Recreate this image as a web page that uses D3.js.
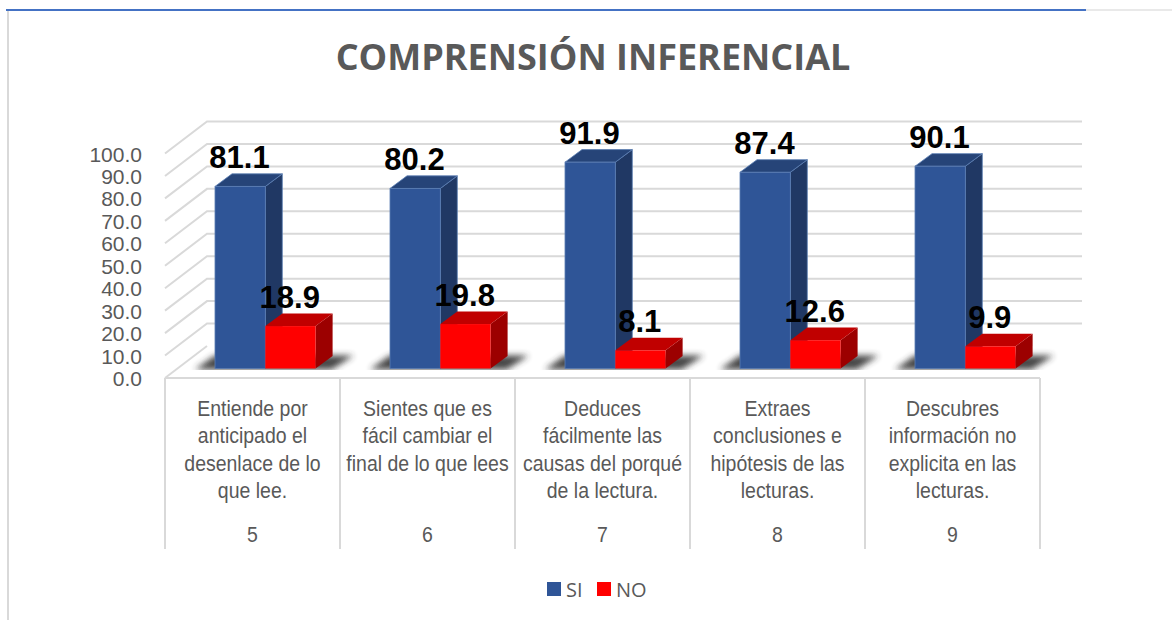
<!DOCTYPE html>
<html><head><meta charset="utf-8">
<script src="https://cdn.jsdelivr.net/npm/d3@7/dist/d3.min.js"></script>
<style>html,body{margin:0;padding:0;background:#fff;overflow:hidden}svg{display:block}text{font-family:"Liberation Sans",Arial,sans-serif}</style>
</head><body><svg id="c" width="1172" height="620"></svg>
<script>
const title = "COMPRENSIÓN INFERENCIAL";
const codes = ["5","6","7","8","9"];
const labels = [
 ["Entiende por","anticipado el","desenlace de lo","que lee."],
 ["Sientes que es","fácil cambiar el","final de lo que lees"],
 ["Deduces","fácilmente las","causas del porqué","de la lectura."],
 ["Extraes","conclusiones e","hipótesis de las","lecturas."],
 ["Descubres","información no","explicita en las","lecturas."]
];
const si = [81.1,80.2,91.9,87.4,90.1];
const no = [18.9,19.8,8.1,12.6,9.9];
const ticks = [0,10,20,30,40,50,60,70,80,90,100];
const seriesNames = ["SI","NO"];

const svg = d3.select("#c");
const defs = svg.append("defs");
defs.append("filter").attr("id","blur").attr("x","-20%").attr("y","-60%").attr("width","140%").attr("height","220%")
  .append("feGaussianBlur").attr("stdDeviation",3.2);
defs.append("clipPath").attr("id","floorClip").append("rect").attr("x",0).attr("y",340).attr("width",1172).attr("height",30);

// frame
svg.append("line").attr("x1",1086).attr("x2",1172).attr("y1",10).attr("y2",10).attr("stroke","#e2e2e2").attr("stroke-width",1.5);
svg.append("line").attr("x1",6).attr("x2",1086).attr("y1",10).attr("y2",10).attr("stroke","#4472c4").attr("stroke-width",2);
svg.append("line").attr("x1",8).attr("x2",8).attr("y1",11).attr("y2",620).attr("stroke","#d9d9d9").attr("stroke-width",2);

svg.append("text").attr("x",593).attr("y",70).attr("text-anchor","middle").attr("fill","#595959")
  .style("font-family","'Open Sans'").style("font-weight",700).style("font-size","36px").text(title);

// 3D geometry
const floorLeft = 165, floorRight = 1040, frontY = 378;
const wallDx = 42, wallDy = -32;
const y = d3.scaleLinear().domain([0,100]).range([0,-224.5]);
const x0 = d3.scaleBand().domain(codes).range([floorLeft,floorRight]);
const barW = 50.3, barDx = 17, barDy = -12.6, barBase = 368.5, barInset = 50;
const grid = "#d9d9d9";

const g = svg.append("g");
ticks.forEach(t=>{
  const yy = frontY + y(t);
  g.append("path").attr("fill","none").attr("stroke",grid).attr("stroke-width",t===0?0:2)
   .attr("d",d3.line()([[floorLeft,yy],[floorLeft+wallDx,yy+wallDy],[floorRight+wallDx,yy+wallDy]]));
});
// floor edges
g.append("line").attr("x1",floorLeft).attr("x2",floorLeft+wallDx).attr("y1",frontY).attr("y2",frontY+wallDy).attr("stroke",grid).attr("stroke-width",2);
g.append("line").attr("x1",floorLeft).attr("x2",floorRight).attr("y1",frontY).attr("y2",frontY).attr("stroke",grid).attr("stroke-width",2);

// y tick labels
svg.append("g").selectAll("text").data(ticks).join("text")
  .attr("x",142).attr("y",t=>frontY+y(t)+8).attr("text-anchor","end").attr("fill","#595959")
  .style("font-size","21px").text(t=>t.toFixed(1));

// category dividers
d3.range(codes.length+1).forEach(i=>{
  const xx = floorLeft + i*x0.step();
  g.append("line").attr("x1",xx).attr("x2",xx).attr("y1",frontY).attr("y2",549).attr("stroke",grid).attr("stroke-width",2);
});

// category labels
const lab = svg.append("g");
codes.forEach((c,i)=>{
  const cx = x0(c)+x0.bandwidth()/2;
  labels[i].forEach((t,j)=>{
    lab.append("text").attr("transform",`translate(${cx},${416+j*27.4}) scale(0.885,1)`)
      .attr("text-anchor","middle").attr("fill","#595959").style("font-size","22px").text(t);
  });
  lab.append("text").attr("transform",`translate(${cx},${541.5}) scale(0.885,1)`).attr("text-anchor","middle")
    .attr("fill","#595959").style("font-size","22px").text(c);
});

// bars
function box(sel,xl,h,front,top,side,edge){
  const t = barBase-h, r = xl+barW;
  sel.append("path").attr("fill",side).attr("stroke",edge).attr("stroke-width",edge==="none"?0:.8).attr("d",d3.line()([[r,barBase],[r+barDx,barBase+barDy],[r+barDx,t+barDy],[r,t]])+"Z");
  sel.append("path").attr("fill",top).attr("stroke",edge).attr("stroke-width",edge==="none"?0:.8).attr("d",d3.line()([[xl,t],[xl+barDx,t+barDy],[r+barDx,t+barDy],[r,t]])+"Z");
  sel.append("rect").attr("x",xl).attr("y",t).attr("width",barW).attr("height",h).attr("fill",front).attr("stroke",edge).attr("stroke-width",edge==="none"?0:.8);
}
codes.forEach((c,i)=>{
  const xl = x0(c)+barInset;
  const s = svg.append("g");
  // ground shadow
  s.append("g").attr("clip-path","url(#floorClip)").append("path").attr("fill","#333").attr("filter","url(#blur)").attr("opacity",.9)
   .attr("d",d3.line()([[xl-20,barBase+1],[xl,barBase-13],[xl+2*barW+38,barBase-13],[xl+2*barW+16,barBase+1]])+"Z");
  box(s,xl,-y(si[i]),"#2f5597","#264478","#203864","#5b7db3");
  box(s,xl+barW,-y(no[i]),"#ff0000","#c00000","#9c0000","none");
});
// data labels
const dl = svg.append("g").attr("fill","#000");
function dataLabel(cx,yy,t){
  dl.append("text").attr("transform",`translate(${cx},${yy}) scale(0.97,1)`).attr("text-anchor","middle")
    .style("font-weight",700).style("font-size","32px").text(t);
}
codes.forEach((c,i)=>{
  const xl = x0(c)+barInset;
  dataLabel(xl+24.5,barBase+y(si[i])-18,si[i].toFixed(1));
  dataLabel(xl+barW+24.5,barBase+y(no[i])-18,no[i].toFixed(1));
});
// legend
const colors = ["#2f5597","#ff0000"];
const lx = [547,597];
seriesNames.forEach((n,i)=>{
  svg.append("rect").attr("x",lx[i]).attr("y",582).attr("width",14).attr("height",14).attr("fill",colors[i]);
  svg.append("text").attr("x",lx[i]+19).attr("y",597).attr("fill","#595959").style("font-family","'Open Sans'").style("font-size","20px").text(n);
});
</script></body></html>
